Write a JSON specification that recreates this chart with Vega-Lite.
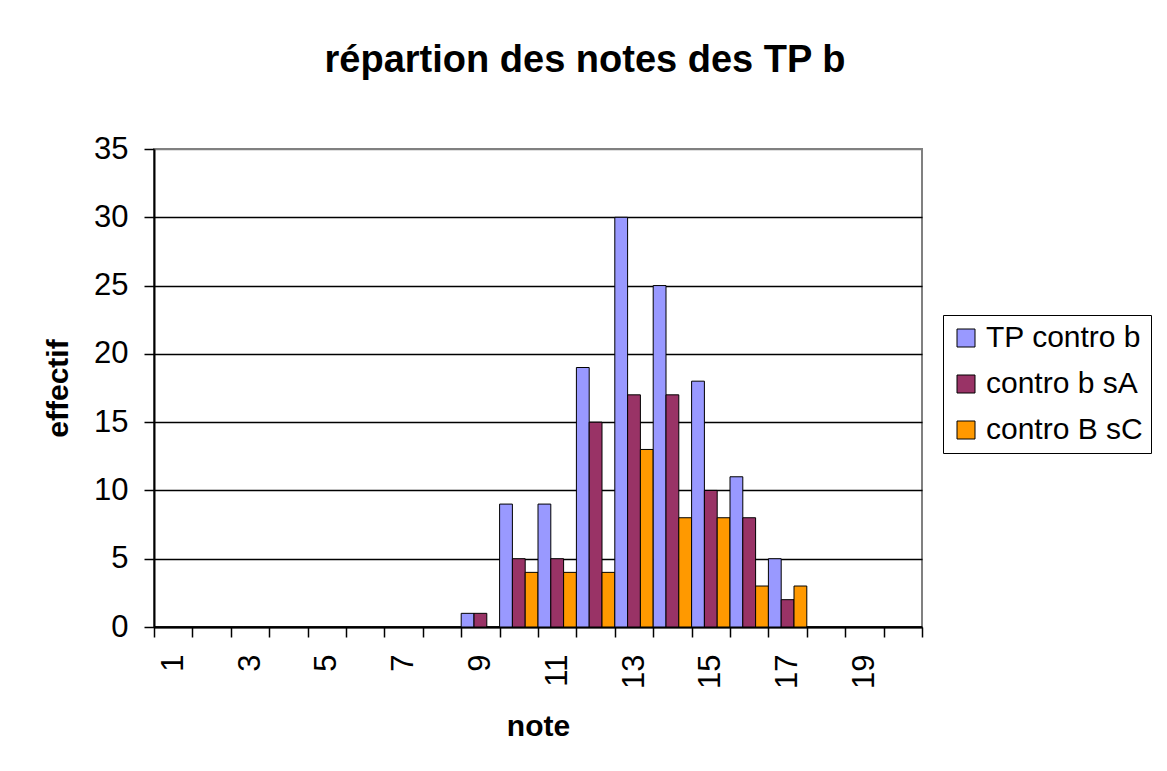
{
  "$schema": "https://vega.github.io/schema/vega-lite/v6.json",
  "width": 768,
  "height": 478,
  "autosize": {"type": "none"},
  "padding": {"left": 154, "top": 149, "right": 245, "bottom": 144},
  "background": "white",
  "config": {
    "font": "Liberation Sans",
    "view": {"stroke": "#808080", "strokeWidth": 2}
  },
  "title": {
    "text": "répartion des notes des TP b",
    "fontSize": 38,
    "fontWeight": "bold",
    "color": "black",
    "anchor": "middle",
    "frame": "group",
    "dx": 47,
    "baseline": "alphabetic",
    "offset": 23
  },
  "data": {
    "values": [
      {"note": 1, "serie": "TP contro b", "effectif": 0},
      {"note": 1, "serie": "contro b sA", "effectif": 0},
      {"note": 1, "serie": "contro B sC", "effectif": 0},
      {"note": 2, "serie": "TP contro b", "effectif": 0},
      {"note": 2, "serie": "contro b sA", "effectif": 0},
      {"note": 2, "serie": "contro B sC", "effectif": 0},
      {"note": 3, "serie": "TP contro b", "effectif": 0},
      {"note": 3, "serie": "contro b sA", "effectif": 0},
      {"note": 3, "serie": "contro B sC", "effectif": 0},
      {"note": 4, "serie": "TP contro b", "effectif": 0},
      {"note": 4, "serie": "contro b sA", "effectif": 0},
      {"note": 4, "serie": "contro B sC", "effectif": 0},
      {"note": 5, "serie": "TP contro b", "effectif": 0},
      {"note": 5, "serie": "contro b sA", "effectif": 0},
      {"note": 5, "serie": "contro B sC", "effectif": 0},
      {"note": 6, "serie": "TP contro b", "effectif": 0},
      {"note": 6, "serie": "contro b sA", "effectif": 0},
      {"note": 6, "serie": "contro B sC", "effectif": 0},
      {"note": 7, "serie": "TP contro b", "effectif": 0},
      {"note": 7, "serie": "contro b sA", "effectif": 0},
      {"note": 7, "serie": "contro B sC", "effectif": 0},
      {"note": 8, "serie": "TP contro b", "effectif": 0},
      {"note": 8, "serie": "contro b sA", "effectif": 0},
      {"note": 8, "serie": "contro B sC", "effectif": 0},
      {"note": 9, "serie": "TP contro b", "effectif": 1},
      {"note": 9, "serie": "contro b sA", "effectif": 1},
      {"note": 9, "serie": "contro B sC", "effectif": 0},
      {"note": 10, "serie": "TP contro b", "effectif": 9},
      {"note": 10, "serie": "contro b sA", "effectif": 5},
      {"note": 10, "serie": "contro B sC", "effectif": 4},
      {"note": 11, "serie": "TP contro b", "effectif": 9},
      {"note": 11, "serie": "contro b sA", "effectif": 5},
      {"note": 11, "serie": "contro B sC", "effectif": 4},
      {"note": 12, "serie": "TP contro b", "effectif": 19},
      {"note": 12, "serie": "contro b sA", "effectif": 15},
      {"note": 12, "serie": "contro B sC", "effectif": 4},
      {"note": 13, "serie": "TP contro b", "effectif": 30},
      {"note": 13, "serie": "contro b sA", "effectif": 17},
      {"note": 13, "serie": "contro B sC", "effectif": 13},
      {"note": 14, "serie": "TP contro b", "effectif": 25},
      {"note": 14, "serie": "contro b sA", "effectif": 17},
      {"note": 14, "serie": "contro B sC", "effectif": 8},
      {"note": 15, "serie": "TP contro b", "effectif": 18},
      {"note": 15, "serie": "contro b sA", "effectif": 10},
      {"note": 15, "serie": "contro B sC", "effectif": 8},
      {"note": 16, "serie": "TP contro b", "effectif": 11},
      {"note": 16, "serie": "contro b sA", "effectif": 8},
      {"note": 16, "serie": "contro B sC", "effectif": 3},
      {"note": 17, "serie": "TP contro b", "effectif": 5},
      {"note": 17, "serie": "contro b sA", "effectif": 2},
      {"note": 17, "serie": "contro B sC", "effectif": 3},
      {"note": 18, "serie": "TP contro b", "effectif": 0},
      {"note": 18, "serie": "contro b sA", "effectif": 0},
      {"note": 18, "serie": "contro B sC", "effectif": 0},
      {"note": 19, "serie": "TP contro b", "effectif": 0},
      {"note": 19, "serie": "contro b sA", "effectif": 0},
      {"note": 19, "serie": "contro B sC", "effectif": 0},
      {"note": 20, "serie": "TP contro b", "effectif": 0},
      {"note": 20, "serie": "contro b sA", "effectif": 0},
      {"note": 20, "serie": "contro B sC", "effectif": 0}
    ]
  },
  "mark": {"type": "bar", "stroke": "black", "strokeWidth": 1},
  "encoding": {
    "x": {
      "field": "note",
      "type": "ordinal",
      "sort": null,
      "scale": {"paddingInner": 0, "paddingOuter": 0},
      "axis": {
        "title": "note",
        "titleFontSize": 30,
        "titleFontWeight": "bold",
        "titleColor": "black",
        "titleY": 108,
        "titleBaseline": "alphabetic",
        "labelAngle": 270,
        "labelFontSize": 31,
        "labelColor": "black",
        "labelPadding": 17,
        "labelBaseline": "middle",
        "labelAlign": "right",
        "labelExpr": "datum.value % 2 == 1 ? datum.label : ''",
        "tickBand": "extent",
        "tickSize": 10,
        "tickWidth": 1.5,
        "tickColor": "black",
        "domainColor": "black",
        "domainWidth": 2,
        "grid": false
      }
    },
    "xOffset": {
      "field": "serie",
      "type": "nominal",
      "sort": ["TP contro b", "contro b sA", "contro B sC"],
      "scale": {"paddingInner": 0, "paddingOuter": 0}
    },
    "y": {
      "field": "effectif",
      "type": "quantitative",
      "scale": {"domain": [0, 35], "nice": false},
      "axis": {
        "title": "effectif",
        "titleFontSize": 30,
        "titleFontWeight": "bold",
        "titleColor": "black",
        "titleAngle": 270,
        "titleX": -87,
        "titleY": 239,
        "titleAlign": "center",
        "titleBaseline": "alphabetic",
        "values": [0, 5, 10, 15, 20, 25, 30, 35],
        "labelFontSize": 31,
        "labelColor": "black",
        "labelPadding": 16,
        "tickSize": 10,
        "tickWidth": 1.5,
        "tickColor": "black",
        "domainColor": "black",
        "domainWidth": 2,
        "grid": true,
        "gridColor": {"condition": {"test": "datum.value == 35", "value": "#808080"}, "value": "black"},
        "gridWidth": 1.3
      }
    },
    "color": {
      "field": "serie",
      "type": "nominal",
      "scale": {
        "domain": ["TP contro b", "contro b sA", "contro B sC"],
        "range": ["#9999FF", "#993366", "#FF9900"]
      },
      "legend": {
        "title": null,
        "orient": "none",
        "legendX": 789,
        "legendY": 166,
        "padding": 8,
        "strokeColor": "black",
        "fillColor": "white",
        "symbolType": "square",
        "symbolSize": 324,
        "symbolStrokeColor": "black",
        "symbolStrokeWidth": 1,
        "symbolOpacity": 1,
        "labelFontSize": 30,
        "labelColor": "black",
        "labelOffset": 5,
        "rowPadding": 16,
        "labelLimit": 400
      }
    }
  }
}
